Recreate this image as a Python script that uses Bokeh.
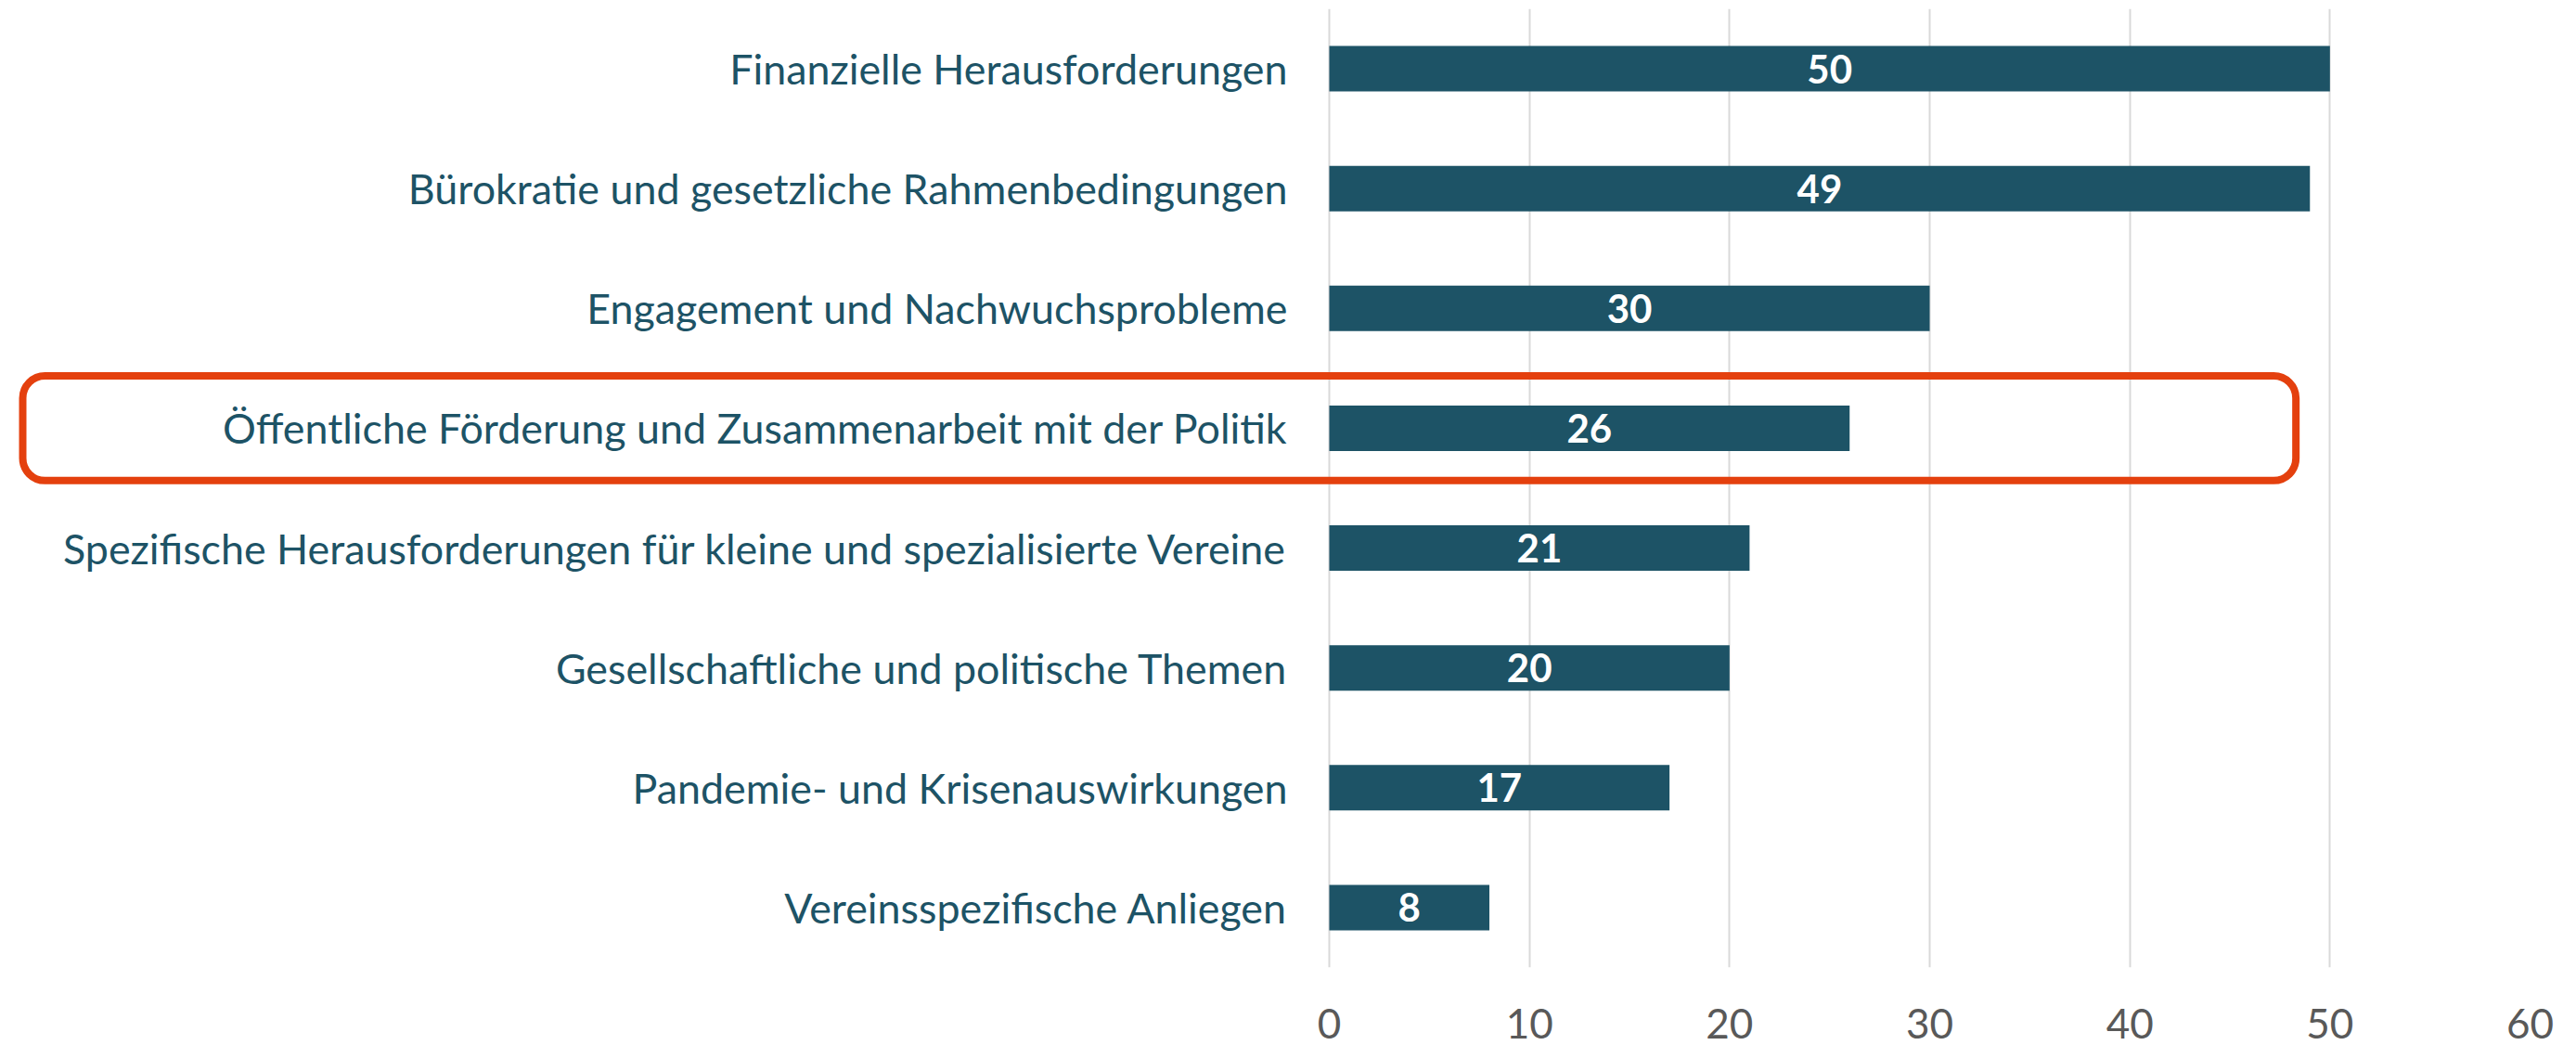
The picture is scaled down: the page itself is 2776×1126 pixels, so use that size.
from bokeh.plotting import figure
from bokeh.models import ColumnDataSource, FactorRange, Range1d, FixedTicker, BoxAnnotation
from bokeh.core.properties import value
from bokeh.embed import file_html
from bokeh.resources import INLINE

categories = [
    "Finanzielle Herausforderungen",
    "Bürokratie und gesetzliche Rahmenbedingungen",
    "Engagement und Nachwuchsprobleme",
    "Öffentliche Förderung und Zusammenarbeit mit der Politik",
    "Spezifische Herausforderungen für kleine und spezialisierte Vereine",
    "Gesellschaftliche und politische Themen",
    "Pandemie- und Krisenauswirkungen",
    "Vereinsspezifische Anliegen",
]
counts = [50, 49, 30, 26, 21, 20, 17, 8]
x_ticks = [0, 10, 20, 30, 40, 50, 60]
highlight = "Öffentliche Förderung und Zusammenarbeit mit der Politik"

BAR = "#1D5366"
FONT = "Lato"

W, H = 2776, 1126
AXIS_X0 = 1432          # screen x where the value axis starts
BR, BT, BB = 50, 9, 84

px_per_unit = (W - AXIS_X0 - BR) / (x_ticks[-1] - x_ticks[0])
x_start = x_ticks[0] - AXIS_X0 / px_per_unit

factors = categories[::-1]
src = ColumnDataSource(dict(
    cat=categories,
    val=counts,
    zero=[0] * len(counts),
    mid=[v / 2 for v in counts],
    lbl=[str(v) for v in counts],
))

p = figure(
    width=W, height=H,
    y_range=FactorRange(factors=factors, range_padding=0, factor_padding=0),
    x_range=Range1d(x_start, x_ticks[-1]),
    output_backend="svg", toolbar_location=None,
    min_border_left=0, min_border_right=BR, min_border_top=BT, min_border_bottom=BB,
)
p.outline_line_color = None
p.background_fill_color = "white"
p.border_fill_color = "white"

p.hbar(y="cat", right="val", left=0, height=0.38, source=src,
       fill_color=BAR, line_color=None)
p.text(x="mid", y="cat", text="lbl", source=src, text_align="center",
       text_baseline="middle", text_color="white", text_font=value(FONT),
       text_font_style="bold", text_font_size="42px")

# category labels (left of the value axis)
p.text(x="zero", y="cat", text="cat", source=src, x_offset=-45,
       text_align="right", text_baseline="middle", text_color=BAR,
       text_font=value(FONT), text_font_size="44.8px")

# x axis
p.xaxis.ticker = FixedTicker(ticks=x_ticks)
p.xaxis.axis_line_color = None
p.xaxis.major_tick_line_color = None
p.xaxis.minor_tick_line_color = None
p.xaxis.major_tick_out = 0
p.xaxis.major_tick_in = 0
p.xaxis.minor_tick_out = 0
p.xaxis.major_label_text_font = FONT
p.xaxis.major_label_text_font_size = "44px"
p.xaxis.major_label_text_color = "#595959"
p.xaxis.major_label_standoff = 44

p.yaxis.visible = False

p.xgrid.grid_line_color = "#D9D9D9"
p.xgrid.grid_line_width = 2
p.ygrid.grid_line_color = None

# highlight frame around one category
pos = factors.index(highlight) + 0.5
box = BoxAnnotation(
    left=24, left_units="canvas",
    right=48.3,
    bottom=pos - 0.437, top=pos + 0.437,
    fill_color=None, fill_alpha=0,
    line_color="#E4400E", line_width=8, line_alpha=1,
    border_radius=24, level="overlay",
)
p.add_layout(box)

open("out.html", "w").write(file_html(p, INLINE))
